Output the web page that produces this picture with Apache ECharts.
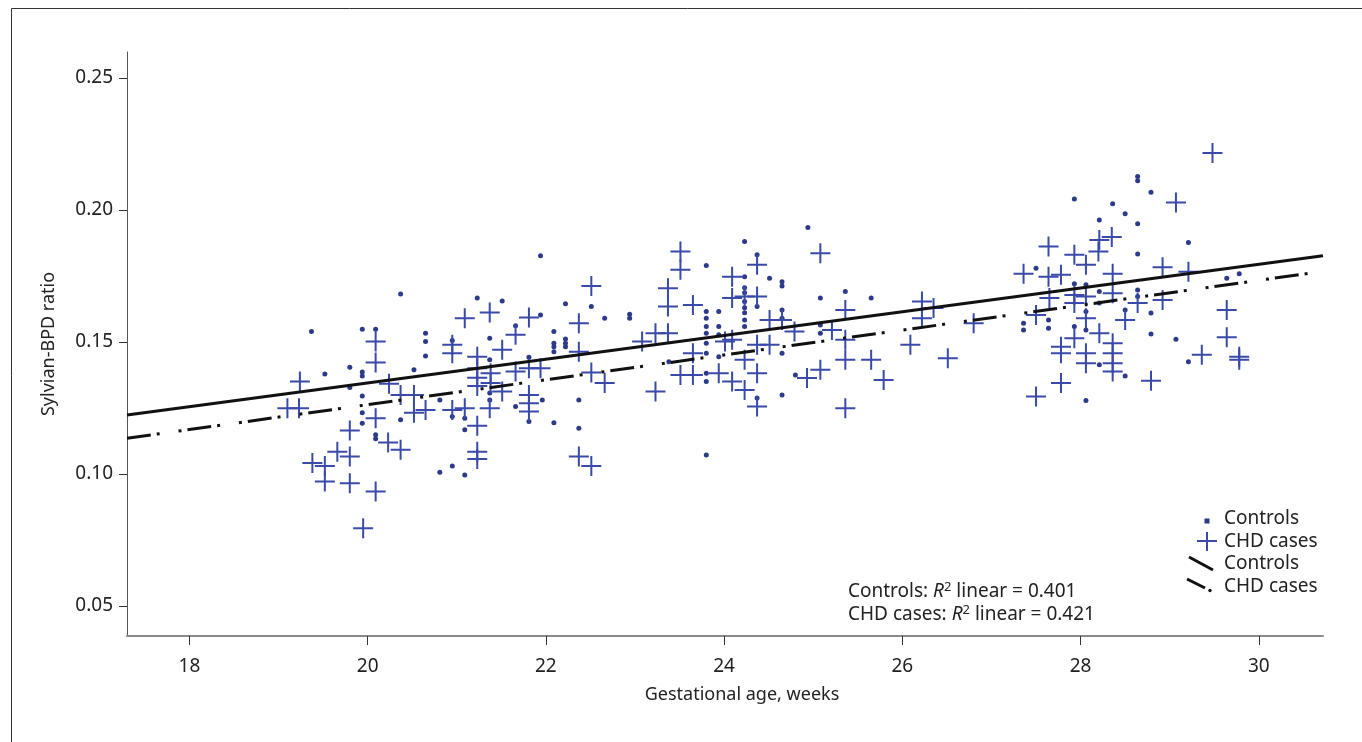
<!DOCTYPE html>
<html>
<head>
<meta charset="utf-8">
<script src="https://cdn.jsdelivr.net/npm/echarts@6/dist/echarts.min.js"></script>
<style>
html, body { margin: 0; padding: 0; background: #fff; }
#show { width: 1362px; height: 742px; }
</style>
</head>
<body>
<div id="show"></div>
<script>
var myChart = echarts.init(document.getElementById("show"));

// tick labels
var xTicks = [18, 20, 22, 24, 26, 28, 30];
var yTicks = [0.05, 0.10, 0.15, 0.20, 0.25];

// Controls: [gestational age, Sylvian-BPD ratio]
var controls = [
    [20.37,0.1681],[19.37,0.1539],[19.94,0.1548],[20.09,0.1548],[19.52,0.1378],[19.80,0.1404],
    [19.94,0.1386],[19.94,0.1371],[20.52,0.1394],[19.94,0.1295],[19.94,0.1232],[19.94,0.1192],
    [20.09,0.1148],[20.09,0.1133],[20.37,0.1205],[19.80,0.1327],
    [20.65,0.1533],[20.65,0.1501],[20.65,0.1447],[21.94,0.1826],[21.23,0.1666],[21.51,0.1655],
    [21.37,0.1514],[21.66,0.1561],[21.94,0.1602],[22.22,0.1644],[22.51,0.1634],[22.66,0.1590],
    [22.94,0.1605],[22.94,0.1590],[22.09,0.1539],[22.09,0.1495],[22.09,0.1482],[22.09,0.1463],
    [22.22,0.1511],[22.22,0.1495],[22.22,0.1482],[21.81,0.1442],[21.37,0.1306],[21.37,0.1280],
    [21.66,0.1255],[21.81,0.1198],[22.09,0.1194],[22.37,0.1280],[22.37,0.1173],[21.09,0.1167],
    [20.81,0.1006],[20.95,0.1030],[21.09,0.0996],[21.96,0.1280],[20.81,0.1280],[23.80,0.1072],
    [20.95,0.1505],[20.95,0.1217],[21.09,0.1211],[21.37,0.1432],
    [24.94,0.1933],[24.23,0.1880],[24.37,0.1830],[23.80,0.1789],[24.23,0.1747],[24.51,0.1741],
    [24.65,0.1728],[24.65,0.1712],[25.08,0.1666],[25.36,0.1691],[25.65,0.1666],[23.80,0.1615],
    [23.80,0.1590],[23.80,0.1558],[23.80,0.1533],[23.94,0.1615],[23.94,0.1558],[23.94,0.1527],
    [24.23,0.1705],[24.23,0.1686],[24.23,0.1653],[24.23,0.1629],[24.23,0.1610],[24.23,0.1583],
    [24.23,0.1558],[24.37,0.1634],[24.65,0.1621],[24.65,0.1590],[25.08,0.1564],[25.08,0.1533],
    [23.80,0.1495],[23.80,0.1457],[23.94,0.1444],[23.80,0.1381],[23.80,0.1350],[24.65,0.1457],
    [24.80,0.1375],[24.65,0.1299],[24.37,0.1287],[23.38,0.1425],
    [28.64,0.2126],[28.64,0.2110],[28.79,0.2067],[27.93,0.2041],[28.36,0.2023],[28.50,0.1985],
    [28.21,0.1962],[28.64,0.1947],[29.21,0.1876],[28.64,0.1833],[27.50,0.1779],[29.64,0.1741],
    [29.78,0.1758],[27.93,0.1720],[28.06,0.1716],[28.21,0.1691],[28.64,0.1697],[28.64,0.1672],
    [28.79,0.1609],[28.21,0.1647],[28.50,0.1621],[27.64,0.1583],[27.64,0.1552],[27.36,0.1571],
    [27.36,0.1545],[27.93,0.1558],[28.06,0.1615],[28.06,0.1545],[28.79,0.1530],[29.07,0.1510],
    [29.21,0.1425],[28.50,0.1371],[28.06,0.1278],[28.21,0.1413]
];

// CHD cases
var chdCases = [
    [20.09,0.1501],[20.09,0.1422],[19.24,0.1350],[19.10,0.1249],[19.23,0.1249],[20.24,0.1341],
    [20.37,0.1299],[20.52,0.1299],[20.52,0.1232],[20.09,0.1211],[19.80,0.1164],[20.23,0.1119],
    [20.37,0.1091],[19.66,0.1084],[19.80,0.1066],[19.38,0.1041],[19.52,0.1030],[19.52,0.0971],
    [19.80,0.0965],[20.09,0.0933],[19.95,0.0794],
    [20.65,0.1242],[22.51,0.1712],[21.37,0.1611],[21.09,0.1590],[21.81,0.1592],[22.37,0.1571],
    [21.66,0.1527],[20.95,0.1489],[20.95,0.1457],[21.51,0.1470],[21.23,0.1444],[22.37,0.1463],
    [21.23,0.1400],[21.23,0.1364],[21.23,0.1333],[21.38,0.1381],[21.38,0.1344],[21.66,0.1388],
    [21.81,0.1400],[21.94,0.1400],[21.51,0.1312],[21.81,0.1299],[21.81,0.1268],[21.81,0.1236],
    [21.37,0.1249],[21.09,0.1249],[20.95,0.1242],[21.23,0.1182],[21.23,0.1084],[21.23,0.1056],
    [22.51,0.1384],[22.66,0.1344],[22.37,0.1066],[22.51,0.1030],[23.23,0.1312],[23.08,0.1501],
    [23.23,0.1533],
    [23.51,0.1842],[23.51,0.1773],[25.08,0.1836],[24.37,0.1792],[24.09,0.1747],[23.37,0.1703],
    [23.37,0.1634],[23.65,0.1640],[24.09,0.1666],[24.37,0.1672],[24.23,0.1672],[24.51,0.1583],
    [24.65,0.1583],[24.79,0.1539],[23.37,0.1533],[24.09,0.1508],[24.01,0.1501],[24.37,0.1489],
    [24.51,0.1489],[23.65,0.1457],[23.51,0.1375],[23.65,0.1375],[23.94,0.1381],[24.09,0.1350],
    [24.23,0.1318],[24.37,0.1381],[24.23,0.1432],[24.37,0.1255],[24.93,0.1363],[25.08,0.1394],
    [25.21,0.1545],[25.36,0.1621],[25.36,0.1508],[25.36,0.1432],[25.36,0.1249],[25.65,0.1432],
    [25.79,0.1356],
    [26.22,0.1653],[26.35,0.1628],[26.22,0.1590],[26.80,0.1571],[26.09,0.1489],[26.51,0.1438],
    [29.48,0.2215],[29.07,0.2028],[28.35,0.1897],[28.21,0.1886],[27.64,0.1861],[27.93,0.1830],
    [28.20,0.1842],[28.06,0.1792],[27.36,0.1758],[27.64,0.1747],[27.78,0.1754],[28.36,0.1758],
    [28.92,0.1783],[29.21,0.1766],[27.65,0.1666],[27.93,0.1678],[27.93,0.1647],[28.06,0.1672],
    [28.36,0.1684],[28.64,0.1647],[28.92,0.1659],[27.50,0.1602],[28.06,0.1590],[28.50,0.1583],
    [28.21,0.1533],[27.93,0.1514],[27.78,0.1482],[27.78,0.1457],[28.06,0.1457],[28.06,0.1419],
    [28.36,0.1495],[28.36,0.1457],[28.36,0.1419],[28.36,0.1388],[27.78,0.1344],[27.50,0.1293],
    [28.79,0.1353],[29.36,0.1451],[29.64,0.1621],[29.64,0.1518],[29.78,0.1444],[29.78,0.1432]
];

// linear fit lines, ends at the axis limits
var fitX = [17.3, 30.72];
var controlsFit = [0.1223, 0.1826];
var chdFit = [0.1135, 0.1767];
var rSquared = [0.401, 0.421];

var font = "'Noto Sans', 'Open Sans', sans-serif";
var dotColor = '#2d3a8a';
var plusColor = '#3a4aa8';
var plusPath = 'path://M9,0h2v9h9v2h-9v9h-2v-9h-9v-2h9z';

function fitLine(ys) {
    return [[fitX[0], ys[0]], [fitX[1], ys[1]]];
}

function label(text, x, y) {
    return {type: 'text', style: {text: text, x: x, y: y, verticalAlign: 'middle',
        fontSize: 19, fontFamily: font, fill: '#222'}};
}

function r2Label(group, r2, y) {
    return {
        type: 'text',
        style: {
            text: '{a|' + group + ': }{i|R}{s|2}{a| linear = ' + r2.toFixed(3) + '}',
            x: 848, y: y, verticalAlign: 'middle', fill: '#222', fontFamily: font,
            rich: {
                a: {fontSize: 19, fontFamily: font, lineHeight: 23},
                i: {fontSize: 19, fontFamily: font, fontStyle: 'italic', lineHeight: 23},
                s: {fontSize: 13, fontFamily: font, verticalAlign: 'top', lineHeight: 18}
            }
        }
    };
}

myChart.setOption({
    animation: false,
    textStyle: {fontFamily: font},
    grid: {left: 127, right: 39, top: 52, bottom: 106, containLabel: false},
    xAxis: {
        type: 'value',
        min: 17.3,
        max: 30.72,
        name: 'Gestational age, weeks',
        nameLocation: 'middle',
        nameGap: 50,
        nameTextStyle: {fontSize: 18, color: '#222', fontFamily: font, padding: [0, 0, 0, 34]},
        axisLine: {show: true, onZero: false, lineStyle: {color: '#8a8a8a', width: 2}},
        axisTick: {show: true, length: 9, customValues: xTicks, lineStyle: {color: '#333'}},
        axisLabel: {customValues: xTicks, margin: 21, fontSize: 19, color: '#222', fontFamily: font},
        splitLine: {show: false}
    },
    yAxis: {
        type: 'value',
        min: 0.0386,
        max: 0.2598,
        name: 'Sylvian-BPD ratio',
        nameLocation: 'middle',
        nameGap: 69,
        nameTextStyle: {fontSize: 18, color: '#222', fontFamily: font},
        axisLine: {show: true, lineStyle: {color: '#555', width: 1}},
        axisTick: {show: true, length: 8, customValues: yTicks, lineStyle: {color: '#333'}},
        axisLabel: {
            customValues: yTicks, margin: 14, fontSize: 19, color: '#222', fontFamily: font,
            formatter: function (v) { return v.toFixed(2); }
        },
        splitLine: {show: false}
    },
    series: [
        {
            name: 'Controls',
            type: 'scatter',
            data: controls,
            symbol: 'circle',
            symbolSize: 5,
            itemStyle: {color: dotColor, opacity: 1},
            z: 2
        },
        {
            name: 'CHD cases',
            type: 'scatter',
            data: chdCases,
            symbol: plusPath,
            symbolSize: 20,
            itemStyle: {color: plusColor, opacity: 1},
            z: 3
        },
        {
            name: 'Controls fit',
            type: 'line',
            data: fitLine(controlsFit),
            symbol: 'none',
            lineStyle: {color: '#111', width: 3},
            z: 4
        },
        {
            name: 'CHD cases fit',
            type: 'line',
            data: fitLine(chdFit),
            symbol: 'none',
            lineStyle: {color: '#111', width: 3, type: [24, 6, 3, 19, 3, 6], cap: 'butt'},
            z: 4
        }
    ],
    graphic: [
        // outer frame
        {type: 'rect', shape: {x: 11.5, y: 8.5, width: 1400, height: 800},
            style: {fill: 'none', stroke: '#333', lineWidth: 1}, silent: true},
        // R squared note
        r2Label('Controls', rSquared[0], 592),
        r2Label('CHD cases', rSquared[1], 615),
        // legend
        {type: 'rect', shape: {x: 1204.5, y: 518.5, width: 5, height: 5}, style: {fill: dotColor}},
        {type: 'rect', shape: {x: 1197, y: 540, width: 20, height: 2}, style: {fill: plusColor}},
        {type: 'rect', shape: {x: 1206, y: 532, width: 2, height: 19}, style: {fill: plusColor}},
        {type: 'line', shape: {x1: 1189, y1: 557, x2: 1213, y2: 570}, style: {stroke: '#111', lineWidth: 3}},
        {type: 'line', shape: {x1: 1187, y1: 579, x2: 1205, y2: 588}, style: {stroke: '#111', lineWidth: 3}},
        {type: 'circle', shape: {cx: 1210, cy: 590.5, r: 1.7}, style: {fill: '#111'}},
        label('Controls', 1224, 519),
        label('CHD cases', 1224, 542),
        label('Controls', 1224, 564),
        label('CHD cases', 1224, 587)
    ]
});
</script>
</body>
</html>
